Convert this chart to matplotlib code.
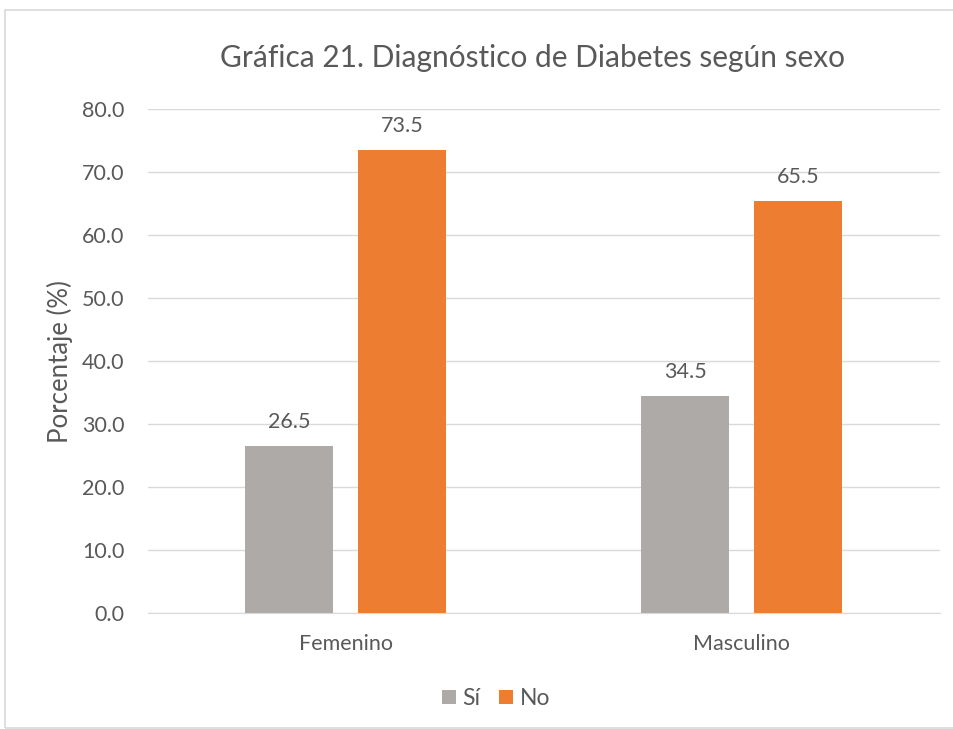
import numpy as np
import matplotlib.pyplot as plt
from matplotlib.patches import Rectangle

categories = ["Femenino", "Masculino"]
si_values = [26.5, 34.5]
no_values = [73.5, 65.5]
yticks = [0, 10, 20, 30, 40, 50, 60, 70, 80]

plt.rcParams['font.family'] = ['Lato', 'DejaVu Sans']
text_color = '#595959'

fig = plt.figure(figsize=(9.54, 7.29), dpi=100)
ax = fig.add_axes([0.155, 0.159, 0.83, 0.691])

x = np.arange(len(categories))
w = 0.222
off = 0.143
b1 = ax.bar(x - off, si_values, w, color='#ADAAA8', label='Sí', zorder=3)
b2 = ax.bar(x + off, no_values, w, color='#ED7D31', label='No', zorder=3)

for bars, vals in ((b1, si_values), (b2, no_values)):
    for rect, v in zip(bars, vals):
        ax.annotate('{:.1f}'.format(v), (rect.get_x() + rect.get_width() / 2, v),
                    xytext=(0, 10), textcoords='offset points',
                    ha='center', va='bottom', fontsize=15.5, color=text_color)

ax.set_xlim(-0.5, 1.5)
ax.set_ylim(0, 80)
ax.set_yticks(yticks)
ax.set_yticklabels(['{:.1f}'.format(t) for t in yticks])
ax.set_xticks(x)
ax.set_xticklabels(categories)
ax.tick_params(axis='both', length=0, labelsize=15.5, colors=text_color)
ax.tick_params(axis='y', pad=17)
ax.tick_params(axis='x', pad=15)
ax.grid(axis='y', color='#D9D9D9', linewidth=1, zorder=0)
for s in ['top', 'right', 'left']:
    ax.spines[s].set_visible(False)
ax.spines['bottom'].set_color('#D9D9D9')
ax.set_ylabel('Porcentaje (%)', fontsize=18.5, color=text_color, labelpad=6)

fig.text(0.558, 0.921, 'Gráfica 21. Diagnóstico de Diabetes según sexo', fontsize=21.5,
         color=text_color, ha='center', va='center')

fig.legend(handles=[b1, b2], labels=['Sí', 'No'], loc='center',
           bbox_to_anchor=(0.52, 0.042), ncol=2, frameon=False,
           fontsize=16.5, labelcolor=text_color, handlelength=0.6,
           handleheight=0.6, handletextpad=0.3, columnspacing=0.8)

fig.patches.append(Rectangle((0.005, 0.002), 1.2, 0.984, transform=fig.transFigure,
                             fill=False, edgecolor='#D9D9D9', linewidth=1.2))

fig.savefig('out.png', dpi=100)
